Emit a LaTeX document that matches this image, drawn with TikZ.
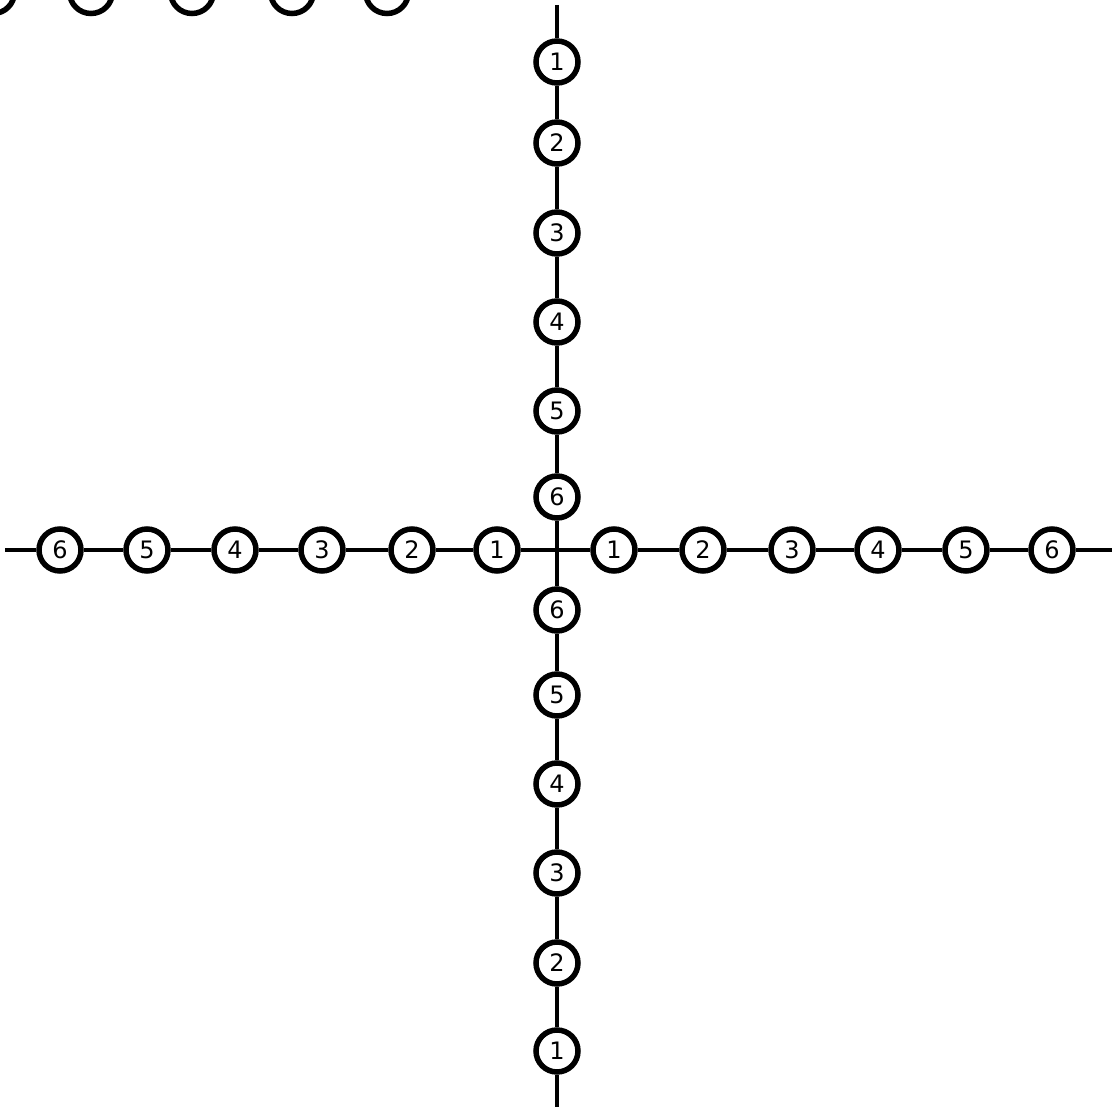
\documentclass[tikz,border=0pt]{standalone}
\usepackage{fontspec}
\setmainfont{DejaVu Sans}
\begin{document}
\begin{tikzpicture}[x=1pt,y=-1pt,
  bead/.style={circle,draw=black,line width=5.5pt,fill=white,minimum size=42pt,inner sep=0pt,font=\fontsize{24}{24}\selectfont},
  wire/.style={line width=4.5pt,black}]
\useasboundingbox (0,0) rectangle (1112,1107);
\begin{scope}
\clip (0,0) rectangle (1112,1107);
\foreach \x [count=\i] in {-7,91,192,292,387}
  \draw[line width=5.5pt] (\x,-8) circle[radius=21.5];
\end{scope}
\coordinate (c) at (557,550);
\coordinate (vt) at (557,5);
\coordinate (vb) at (557,1107);
\coordinate (hl) at (5,550);
\coordinate (hr) at (1112,550);
\foreach \y/\n in {62/1,143/2,233/3,322/4,411/5,497/6}
  \node[bead] (t\n) at (557,\y) {\n};
\foreach \y/\n in {610/6,695/5,784/4,873/3,963/2,1051/1}
  \node[bead] (b\n) at (557,\y) {\n};
\foreach \x/\n in {60/6,147/5,235/4,322/3,412/2,497/1}
  \node[bead] (l\n) at (\x,550) {\n};
\foreach \x/\n in {614/1,703/2,792/3,878/4,966/5,1052/6}
  \node[bead] (r\n) at (\x,550) {\n};
\draw[wire] (vt) -- (t1) -- (t2) -- (t3) -- (t4) -- (t5) -- (t6) -- (c) -- (b6) -- (b5) -- (b4) -- (b3) -- (b2) -- (b1) -- (vb);
\draw[wire] (hl) -- (l6) -- (l5) -- (l4) -- (l3) -- (l2) -- (l1) -- (c) -- (r1) -- (r2) -- (r3) -- (r4) -- (r5) -- (r6) -- (hr);
\end{tikzpicture}
\end{document}
